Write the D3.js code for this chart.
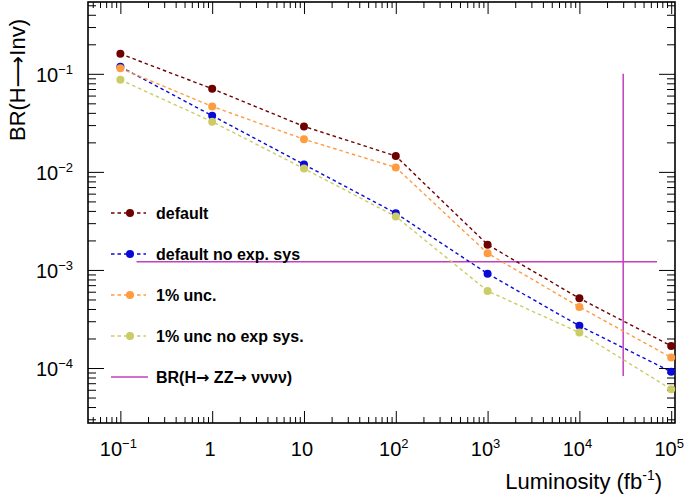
<!DOCTYPE html>
<html>
<head>
<meta charset="utf-8">
<script src="https://cdn.jsdelivr.net/npm/d3@7"></script>
<style>
  body { margin: 0; background: #fff; }
  text { font-family: "Liberation Sans", Arial, Helvetica, sans-serif; }
</style>
</head>
<body>
<div id="chart"></div>
<script>
// luminosity points (fb^-1)
var lumi = [0.1, 1, 10, 100, 1000, 1e4, 1e5];
// BR(H->Inv) reach per scenario
var brDefault   = [0.160, 0.0704, 0.0291, 0.0145, 0.00181, 0.000514, 0.000168];
var brNoExpSys  = [0.118, 0.0374, 0.0119, 0.00379, 0.000917, 0.000269, 0.0000916];
var brUnc1      = [0.114, 0.0465, 0.0215, 0.0111, 0.00148, 0.00042, 0.000128];
var brUnc1NoExp = [0.0869, 0.0325, 0.0108, 0.00351, 0.00061, 0.00023, 0.0000607];
// SM reference BR(H->ZZ->4nu): horizontal line and vertical marker
var zzLineX = [0.15, 7e4];
var zzLineY = [1.21e-3, 1.21e-3];
var markX = [3e4, 3e4];
var markY = [8.3e-5, 0.1];

var seriesNames = ["default", "default no exp. sys", "1% unc.", "1% unc no exp sys."];
var seriesColours = ["#6e0000", "#0a0ad6", "#ff9c40", "#cccc66"];
var seriesValues = [brDefault, brNoExpSys, brUnc1, brUnc1NoExp];
var zzColour = "#c040c0";

var xTickVals = [0.1, 1, 10, 100, 1000, 1e4, 1e5];
var xTickText = [["10", "\u22121"], ["1", ""], ["10", ""], ["10", "2"], ["10", "3"], ["10", "4"], ["10", "5"]];
var yTickVals = [1e-4, 1e-3, 1e-2, 1e-1];
var yTickText = [["10", "\u22124"], ["10", "\u22123"], ["10", "\u22122"], ["10", "\u22121"]];

var W = 685, H = 496;
var pLeft = 88, pRight = 675, pTop = 2, pBottom = 423;

var svg = d3.select("#chart").append("svg").attr("width", W).attr("height", H);

var x = d3.scaleLog().domain([0.0444, 1.1e5]).range([pLeft, pRight]);
var y = d3.scaleLog().domain([2.75e-5, 0.54]).range([pBottom, pTop]);

// minor ticks 2..9 in every decade that falls in the domain
function minors(scale) {
  var d = scale.domain(), out = [];
  for (var e = Math.floor(Math.log10(d[0])); e <= Math.ceil(Math.log10(d[1])); e++) {
    for (var m = 2; m <= 9; m++) {
      var v = m * Math.pow(10, e);
      if (v > d[0] && v < d[1]) out.push(v);
    }
  }
  return out;
}

// ticks on all four sides (ROOT style, pointing inwards)
function tickAxis(axisFn, scale, vals, size, tx, ty) {
  var g = svg.append("g").attr("transform", "translate(" + tx + "," + ty + ")")
    .call(axisFn(scale).tickValues(vals).tickSize(size).tickFormat(""));
  g.select(".domain").remove();
  g.selectAll("line").attr("stroke", "#000").attr("stroke-width", 1);
}
tickAxis(d3.axisTop, x, xTickVals, 12, 0, pBottom);
tickAxis(d3.axisTop, x, minors(x), 6, 0, pBottom);
tickAxis(d3.axisBottom, x, xTickVals, 12, 0, pTop);
tickAxis(d3.axisBottom, x, minors(x), 6, 0, pTop);
tickAxis(d3.axisRight, y, yTickVals, 16, pLeft, 0);
tickAxis(d3.axisRight, y, minors(y), 8, pLeft, 0);
tickAxis(d3.axisLeft, y, yTickVals, 16, pRight, 0);
tickAxis(d3.axisLeft, y, minors(y), 8, pRight, 0);

svg.append("rect").attr("x", pLeft).attr("y", pTop)
   .attr("width", pRight - pLeft).attr("height", pBottom - pTop)
   .attr("fill", "none").attr("stroke", "#000").attr("stroke-width", 1.6);

// tick labels with superscripts
function label(t, xx, yy, anchor) {
  var txt = svg.append("text").attr("x", xx).attr("y", yy)
     .attr("text-anchor", anchor).style("font-size", "20px").attr("fill", "#000");
  txt.append("tspan").text(t[0]);
  if (t[1]) txt.append("tspan").text(t[1]).attr("dy", -8).style("font-size", "13px");
}
xTickVals.forEach(function (v, i) { label(xTickText[i], x(v) - 2, 456, "middle"); });
yTickVals.forEach(function (v, i) { label(yTickText[i], 73, y(v) + 8, "end"); });

// axis titles
var xt = svg.append("text").attr("x", 662).attr("y", 489).attr("text-anchor", "end")
   .style("font-size", "22px");
xt.append("tspan").text("Luminosity (fb");
xt.append("tspan").text("-1").attr("dy", -9).style("font-size", "14px");
xt.append("tspan").text(")").attr("dy", 9);

var yt = svg.append("text").attr("transform", "translate(25,19) rotate(-90)")
   .attr("text-anchor", "end").style("font-size", "22px");
yt.append("tspan").text("BR(H");
yt.append("tspan").text("\u27F6").style("font-family", "DejaVu Sans");
yt.append("tspan").text("Inv)");

// reference lines
var line = d3.line().x(function (d) { return x(d[0]); }).y(function (d) { return y(d[1]); });
svg.append("path").datum(d3.zip(zzLineX, zzLineY)).attr("d", line)
   .attr("fill", "none").attr("stroke", zzColour).attr("stroke-width", 1.5);
svg.append("path").datum(d3.zip(markX, markY)).attr("d", line)
   .attr("fill", "none").attr("stroke", zzColour).attr("stroke-width", 1.5);

// series
seriesValues.forEach(function (vals, i) {
  var pts = d3.zip(lumi, vals);
  svg.append("path").datum(pts).attr("d", line)
     .attr("fill", "none").attr("stroke", seriesColours[i])
     .attr("stroke-width", 1.4).attr("stroke-dasharray", "3.5,3");
  svg.selectAll(".m" + i).data(pts).enter().append("circle")
     .attr("cx", function (d) { return x(d[0]); })
     .attr("cy", function (d) { return y(d[1]); })
     .attr("r", 4).attr("fill", seriesColours[i]);
});

// legend
var legY = [213, 254, 295, 336, 377];
seriesNames.forEach(function (n, i) {
  svg.append("line").attr("x1", 111).attr("x2", 146).attr("y1", legY[i]).attr("y2", legY[i])
     .attr("stroke", seriesColours[i]).attr("stroke-width", 1.4).attr("stroke-dasharray", "3.5,3");
  svg.append("circle").attr("cx", 130).attr("cy", legY[i]).attr("r", 4).attr("fill", seriesColours[i]);
  svg.append("text").attr("x", 156).attr("y", legY[i] + 6).style("font-size", "16px")
     .style("font-weight", "bold").text(n);
});
svg.append("line").attr("x1", 111).attr("x2", 148).attr("y1", legY[4]).attr("y2", legY[4])
   .attr("stroke", zzColour).attr("stroke-width", 1.5);
var zt = svg.append("text").attr("x", 156).attr("y", legY[4] + 6).style("font-size", "16px")
   .style("font-weight", "bold");
zt.append("tspan").text("BR(H");
zt.append("tspan").text("\u2192").style("font-family", "DejaVu Sans");
zt.append("tspan").text(" ZZ");
zt.append("tspan").text("\u2192").style("font-family", "DejaVu Sans");
zt.append("tspan").text(" \u03bd\u03bd\u03bd\u03bd)");
</script>
</body>
</html>
